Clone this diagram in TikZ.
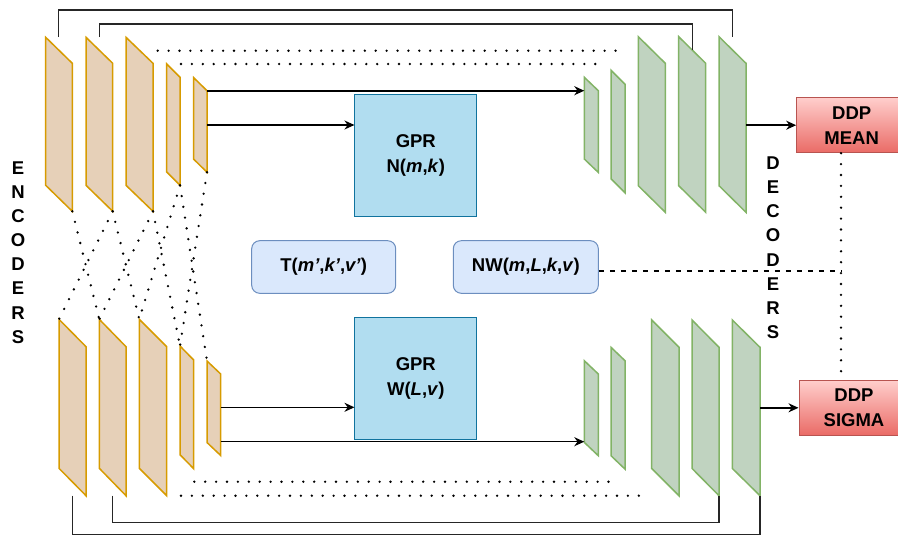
\documentclass[tikz,border=0pt]{standalone}
\usepackage{fontspec}
\setmainfont{Liberation Sans}
\usetikzlibrary{arrows.meta}
\definecolor{encfill}{HTML}{E6D0B8}
\definecolor{encdraw}{HTML}{D79B00}
\definecolor{decfill}{HTML}{C0D3C0}
\definecolor{decdraw}{HTML}{82B366}
\definecolor{gprfill}{HTML}{B1DDF0}
\definecolor{gprdraw}{HTML}{10739E}
\definecolor{tfill}{HTML}{DAE8FC}
\definecolor{tdraw}{HTML}{6C8EBF}
\definecolor{ddptop}{HTML}{FFCECC}
\definecolor{ddpbot}{HTML}{EA6B66}
\definecolor{ddpdraw}{HTML}{B85450}
% style, name, xl, xr, ytl, ytr, h
\newcommand\plg[7]{%
  \draw[#1] (#3,#5) coordinate (#2-tl) -- (#4,#6) coordinate (#2-tr)
    -- (#4,{#6+#7}) coordinate (#2-br) -- (#3,{#5+#7}) coordinate (#2-bl) -- cycle;}
\tikzset{
  enc/.style={fill=encfill,draw=encdraw,line width=1.5pt},
  dec/.style={fill=decfill,draw=decdraw,line width=1.5pt},
  skipline/.style={line width=1.5pt,draw=black!85},
  dotline/.style={line width=2.6pt,line cap=round,dash pattern=on 0pt off 10.9pt},
  dashline/.style={line width=2pt,dash pattern=on 5pt off 6pt},
  arr/.style={line width=1.5pt,-{Stealth[length=10pt,width=9pt]}},
  gpr/.style={draw=gprdraw,fill=gprfill,line width=1pt,minimum width=121.7pt,
    minimum height=121.7pt,align=center,inner sep=0pt},
  tbox/.style={draw=tdraw,fill=tfill,rounded corners=8pt,line width=1pt,
    minimum height=52.6pt,inner sep=0pt},
  ddp/.style={draw=ddpdraw,top color=ddptop,bottom color=ddpbot,line width=1pt,
    minimum width=110pt,minimum height=55pt,align=center,inner sep=0pt},
  letters/.style={align=center,inner sep=0pt,font=\bfseries\fontsize{18.5}{24.1}\selectfont},
}
\begin{document}
\begin{tikzpicture}[x=1pt,y=-1pt,font=\bfseries\fontsize{18.5}{25}\selectfont]
\useasboundingbox (0,0) rectangle (898,536);
\clip (0,0) rectangle (898,536);

% top encoders
\plg{enc}{E1}{45.7}{72.3}{37.3}{63.3}{148}
\plg{enc}{E2}{86}{112.7}{37.3}{63.3}{148}
\plg{enc}{E3}{126}{153}{37.3}{63.3}{148}
\plg{enc}{E4}{166.7}{180}{64}{77.3}{108}
\plg{enc}{E5}{193.7}{207}{77.7}{90.7}{81.5}
% bottom encoders
\plg{enc}{B1}{59}{86}{319.3}{346.7}{149}
\plg{enc}{B2}{99.3}{126}{319.3}{346.7}{149}
\plg{enc}{B3}{139.3}{166.7}{319.3}{346.7}{149}
\plg{enc}{B4}{180}{193.7}{346}{360}{108.7}
\plg{enc}{B5}{207}{220.7}{361}{374}{81.5}
% top decoders
\plg{dec}{D1}{584.3}{598.3}{77.3}{90.7}{81.7}
\plg{dec}{D2}{611}{625}{70.3}{84.3}{108.4}
\plg{dec}{D3}{638.3}{665.3}{36.7}{63.3}{149}
\plg{dec}{D4}{678.7}{705.7}{36.7}{63.3}{149}
\plg{dec}{D5}{719}{746}{36.7}{63.3}{149}
% bottom decoders
\plg{dec}{BD1}{584.3}{598.3}{360.7}{374}{81.7}
\plg{dec}{BD2}{611}{625}{347.3}{360.7}{108.4}
\plg{dec}{BD3}{651.7}{679}{320}{347.3}{148.4}
\plg{dec}{BD4}{692}{719}{320}{347.3}{148.4}
\plg{dec}{BD5}{732.3}{760}{320}{347.3}{148.4}

% central nodes
\node[gpr] (gprN) at (415.8,155.8) {GPR\\N(\textit{m},\textit{k})};
\node[gpr] (gprW) at (415.8,378.2) {GPR\\W(\textit{L},\textit{v})};
\node[tbox,minimum width=144pt] (T) at (323.7,267) {T(\textit{m'},\textit{k'},\textit{v'})};
\node[tbox,minimum width=145pt] (NW) at (525.8,267) {NW(\textit{m},\textit{L},\textit{k},\textit{v})};
\node[ddp] (mean) at (851.7,125.2) {DDP\\MEAN};
\node[ddp] (sigma) at (854,407.8) {DDP\\SIGMA};

\node[letters] (enctxt) at (18,252.5) {E\\N\\C\\O\\D\\E\\R\\S};
\node[letters] (dectxt) at (773,247.7) {D\\E\\C\\O\\D\\E\\R\\S};

% arrows
\coordinate (e5o) at (207,125);
\coordinate (b5o) at (220.7,407.3);
\coordinate (b5p) at (220.7,441.7);
\draw[arr,line width=2pt] (E5-tr) -- (E5-tr -| D1-tl);
\draw[arr] (e5o) -- (e5o -| gprN.west);
\draw[arr] (mean.west -| D5-tr) -- (mean.west);
\draw[arr] (b5o) -- (b5o -| gprW.west);
\draw[arr] (b5p) -- (b5p -| BD1-tl);
\draw[arr] (sigma.west -| BD5-tr) -- (sigma.west);

% skip connections
\coordinate (s1a) at (58.7,37);
\coordinate (s1b) at (732.7,37);
\coordinate (s2a) at (99.3,37);
\coordinate (s2b) at (692.3,50);
\coordinate (s3a) at (112.7,495.7);
\coordinate (s4a) at (72.3,495.7);
\draw[skipline] (s1a) -- ++(0,-27) -| (s1b);
\draw[skipline] (s2a) -- ++(0,-13) -| (s2b);
\draw[skipline] (s3a) -- ++(0,26.6) -| (BD4-br);
\draw[skipline] (s4a) -- ++(0,39) -| (BD5-br);

% dotted skip rows
\coordinate (d1a) at (157.7,50.7);  \coordinate (d1b) at (623,50.7);
\coordinate (d2a) at (181,64);      \coordinate (d2b) at (602.7,64);
\coordinate (d3a) at (194.3,481.7); \coordinate (d3b) at (616.7,481.7);
\coordinate (d4a) at (181,495.7);   \coordinate (d4b) at (645,495.7);
\draw[dotline] (d1a) -- (d1b);
\draw[dotline] (d2a) -- (d2b);
\draw[dotline] (d3a) -- (d3b);
\draw[dotline] (d4a) -- (d4b);

% crossing dotted links
\draw[dotline] (E1-br) -- (B2-tl);
\draw[dotline] (E2-br) -- (B1-tl);
\draw[dotline] (E2-br) -- (B3-tl);
\draw[dotline] (E3-br) -- (B2-tl);
\draw[dotline] (E3-br) -- (B4-tl);
\draw[dotline] (E4-br) -- (B3-tl);
\draw[dotline] (E4-br) -- (B5-tl);
\draw[dotline] (E5-br) -- (B4-tl);

% DDP link
\coordinate (j) at (841,270.7);
\draw[dotline] (mean.south -| j) -- (sigma.north -| j);
\draw[dashline] ([yshift=-3.7pt]NW.east) -- (j);
\end{tikzpicture}
\end{document}
